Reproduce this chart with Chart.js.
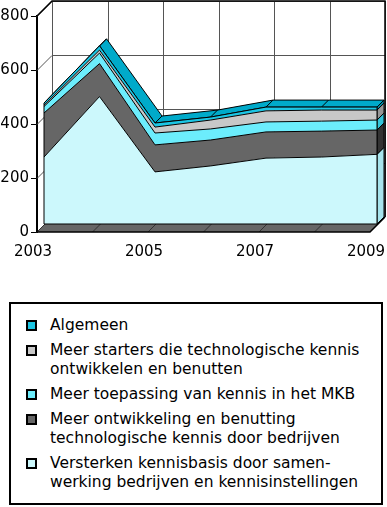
<!DOCTYPE html>
<html>
<head>
<meta charset="utf-8">
<script src="https://cdn.jsdelivr.net/npm/chart.js@4/dist/chart.umd.min.js"></script>
<style>
  html, body { margin: 0; padding: 0; background: #fff; }
  #wrap { position: absolute; left: 0; top: 0; width: 387px; height: 262px; }
  #legenda {
    position: absolute; left: 9px; top: 302px; width: 374px; height: 203px;
    box-sizing: border-box; border: 2px solid #000; padding-top: 12px;
    font-family: "DejaVu Sans"; font-size: 15.5px; line-height: 19px; color: #000;
  }
  .item { position: relative; padding-left: 39px; margin-bottom: 6px; }
  .item .box { position: absolute; left: 15px; top: 4px; width: 7px; height: 7px; border: 2px solid #000; }
</style>
</head>
<body>
<div id="wrap"><canvas id="grafiek"></canvas></div>
<div id="legenda"></div>
<script>
// data (onderste reeks eerst)
const jaren = ['2003', '2004', '2005', '2006', '2007', '2008', '2009'];
const xLabels = ['2003', '2005', '2007', '2009'];
const yTicks = [0, 200, 400, 600, 800];

const versterken = [248, 472, 193, 215, 244, 248, 258];
const ontwikkeling = [163, 122, 100, 96, 97, 96, 90];
const toepassing = [24, 39, 44, 41, 37, 37, 37];
const starters = [5, 11, 22, 33, 41, 41, 37];
const algemeen = [8, 16, 15, 11, 14, 11, 11];

const regels = [
  ['Versterken kennisbasis door samen-', 'werking bedrijven en kennisinstellingen'],
  ['Meer ontwikkeling en benutting', 'technologische kennis door bedrijven'],
  ['Meer toepassing van kennis in het MKB'],
  ['Meer starters die technologische kennis', 'ontwikkelen en benutten'],
  ['Algemeen']
];
const reeksen = [versterken, ontwikkeling, toepassing, starters, algemeen];
const kleuren = ['#CCF8FC', '#666666', '#6CEDFC', '#C8C8C8', '#1CC6E4'];
const zijkleuren = ['#A6E4EC', '#333333', '#34C4DA', '#969696', '#0090AA'];
const bovenkleur = '#00AACA';

// 3D verschuivingen
const wand = { x: 15, y: -15 };
const voor = { x: 7, y: -8 };
const achter = { x: 14, y: -15 };

Chart.defaults.font.family = 'DejaVu Sans';
Chart.defaults.font.size = 15;
Chart.defaults.color = '#000';

const drieD = {
  id: 'drieD',
  beforeDatasetsDraw(chart) {
    const { ctx, chartArea: a, scales: { x, y } } = chart;
    ctx.save();
    // achterwand
    ctx.fillStyle = '#fff';
    ctx.fillRect(a.left + wand.x, a.top + wand.y, a.width, a.height);
    ctx.strokeStyle = '#555';
    ctx.lineWidth = 1;
    yTicks.forEach(v => {
      const py = Math.round(y.getPixelForValue(v)) + 0.5;
      ctx.beginPath();
      ctx.moveTo(a.left, py);
      ctx.lineTo(a.left + wand.x, py + wand.y);
      ctx.lineTo(a.right + wand.x, py + wand.y);
      ctx.stroke();
    });
    jaren.forEach((j, i) => {
      const px = Math.round(x.getPixelForValue(i)) + 0.5;
      ctx.beginPath();
      ctx.moveTo(px + wand.x, a.top + wand.y);
      ctx.lineTo(px + wand.x, a.bottom + wand.y);
      ctx.stroke();
    });
    ctx.strokeStyle = '#000';
    ctx.lineWidth = 1.5;
    ctx.beginPath();
    ctx.moveTo(a.left, a.top);
    ctx.lineTo(a.left + wand.x, a.top + wand.y);
    ctx.lineTo(a.right + wand.x, a.top + wand.y);
    ctx.lineTo(a.right + wand.x, a.bottom + wand.y);
    ctx.stroke();

    // vloer
    ctx.fillStyle = '#666';
    ctx.beginPath();
    ctx.moveTo(a.left, a.bottom);
    ctx.lineTo(a.right, a.bottom);
    ctx.lineTo(a.right + wand.x, a.bottom + wand.y);
    ctx.lineTo(a.left + wand.x, a.bottom + wand.y);
    ctx.closePath();
    ctx.fill();
    ctx.lineWidth = 1;
    ctx.strokeStyle = '#333';
    jaren.forEach((j, i) => {
      const px = x.getPixelForValue(i);
      ctx.beginPath();
      ctx.moveTo(px, a.bottom);
      ctx.lineTo(px + wand.x, a.bottom + wand.y);
      ctx.stroke();
    });
    ctx.strokeStyle = '#000';
    ctx.lineWidth = 1.5;
    ctx.beginPath();
    ctx.moveTo(a.left, a.bottom);
    ctx.lineTo(a.right, a.bottom);
    ctx.lineTo(a.right + wand.x, a.bottom + wand.y);
    ctx.stroke();

    // bovenvlak van de bovenste reeks
    const top = chart.getDatasetMeta(reeksen.length - 1).data;
    ctx.lineWidth = 1;
    ctx.fillStyle = bovenkleur;
    ctx.beginPath();
    top.forEach((p, i) => i ? ctx.lineTo(p.x + voor.x, p.y + voor.y) : ctx.moveTo(p.x + voor.x, p.y + voor.y));
    for (let i = top.length - 1; i >= 0; i--) ctx.lineTo(top[i].x + achter.x, top[i].y + achter.y);
    ctx.closePath();
    ctx.fill();
    ctx.stroke();
    top.forEach(p => {
      ctx.beginPath();
      ctx.moveTo(p.x + voor.x, p.y + voor.y);
      ctx.lineTo(p.x + achter.x, p.y + achter.y);
      ctx.stroke();
    });

    // rechter zijkant
    const n = jaren.length - 1;
    reeksen.forEach((r, k) => {
      const p = chart.getDatasetMeta(k).data[n];
      const onder = k ? chart.getDatasetMeta(k - 1).data[n].y : y.getPixelForValue(0);
      ctx.fillStyle = zijkleuren[k];
      ctx.beginPath();
      ctx.moveTo(p.x + voor.x, onder + voor.y);
      ctx.lineTo(p.x + voor.x, p.y + voor.y);
      ctx.lineTo(p.x + achter.x, p.y + achter.y);
      ctx.lineTo(p.x + achter.x, onder + achter.y);
      ctx.closePath();
      ctx.fill();
      ctx.stroke();
    });
    ctx.restore();

    ctx.save();
    ctx.translate(voor.x, voor.y);
  },
  afterDatasetsDraw(chart) {
    const { ctx, scales: { y } } = chart;
    const top = chart.getDatasetMeta(reeksen.length - 1).data;
    const nul = y.getPixelForValue(0);
    ctx.strokeStyle = '#000';
    ctx.lineWidth = 1;
    ctx.beginPath();
    ctx.moveTo(top[0].x, top[0].y);
    ctx.lineTo(top[0].x, nul);
    ctx.lineTo(top[top.length - 1].x, nul);
    ctx.lineTo(top[top.length - 1].x, top[top.length - 1].y);
    ctx.stroke();
    ctx.restore();
  }
};

const grafiek = new Chart(document.getElementById('grafiek'), {
  type: 'line',
  data: {
    labels: jaren,
    datasets: reeksen.map((r, k) => ({
      label: regels[k].join(' '),
      data: r,
      backgroundColor: kleuren[k],
      borderColor: '#000',
      borderWidth: 1,
      pointRadius: 0,
      tension: 0,
      fill: k === 0 ? 'origin' : '-1'
    }))
  },
  options: {
    responsive: true,
    maintainAspectRatio: false,
    animation: false,
    layout: { padding: { top: 16, right: 17, left: 0, bottom: 0 } },
    plugins: { legend: { display: false }, tooltip: { enabled: false } },
    scales: {
      x: {
        offset: false,
        grid: { display: false, drawTicks: false },
        border: { display: false },
        ticks: {
          autoSkip: false,
          maxRotation: 0,
          padding: 11,
          labelOffset: -4,
          callback: (v, i) => xLabels.includes(jaren[i]) ? jaren[i] : ''
        },
        afterFit: s => { s.height = 30; s.paddingLeft = 0; s.paddingRight = 0; }
      },
      y: {
        stacked: true,
        min: 0,
        max: 800,
        grid: { drawOnChartArea: false, tickLength: 6, tickColor: '#000', tickWidth: 1 },
        border: { color: '#000', width: 2 },
        ticks: { stepSize: 200, padding: 2 },
        afterFit: s => { s.width = 37; }
      }
    }
  },
  plugins: [drieD]
});

// legenda (bovenste reeks eerst)
const legenda = document.getElementById('legenda');
Chart.defaults.plugins.legend.labels.generateLabels(grafiek).reverse().forEach(item => {
  const div = document.createElement('div');
  div.className = 'item';
  const box = document.createElement('span');
  box.className = 'box';
  box.style.background = item.fillStyle;
  div.appendChild(box);
  div.insertAdjacentHTML('beforeend', regels[item.datasetIndex].join('<br>'));
  legenda.appendChild(div);
});
</script>
</body>
</html>
